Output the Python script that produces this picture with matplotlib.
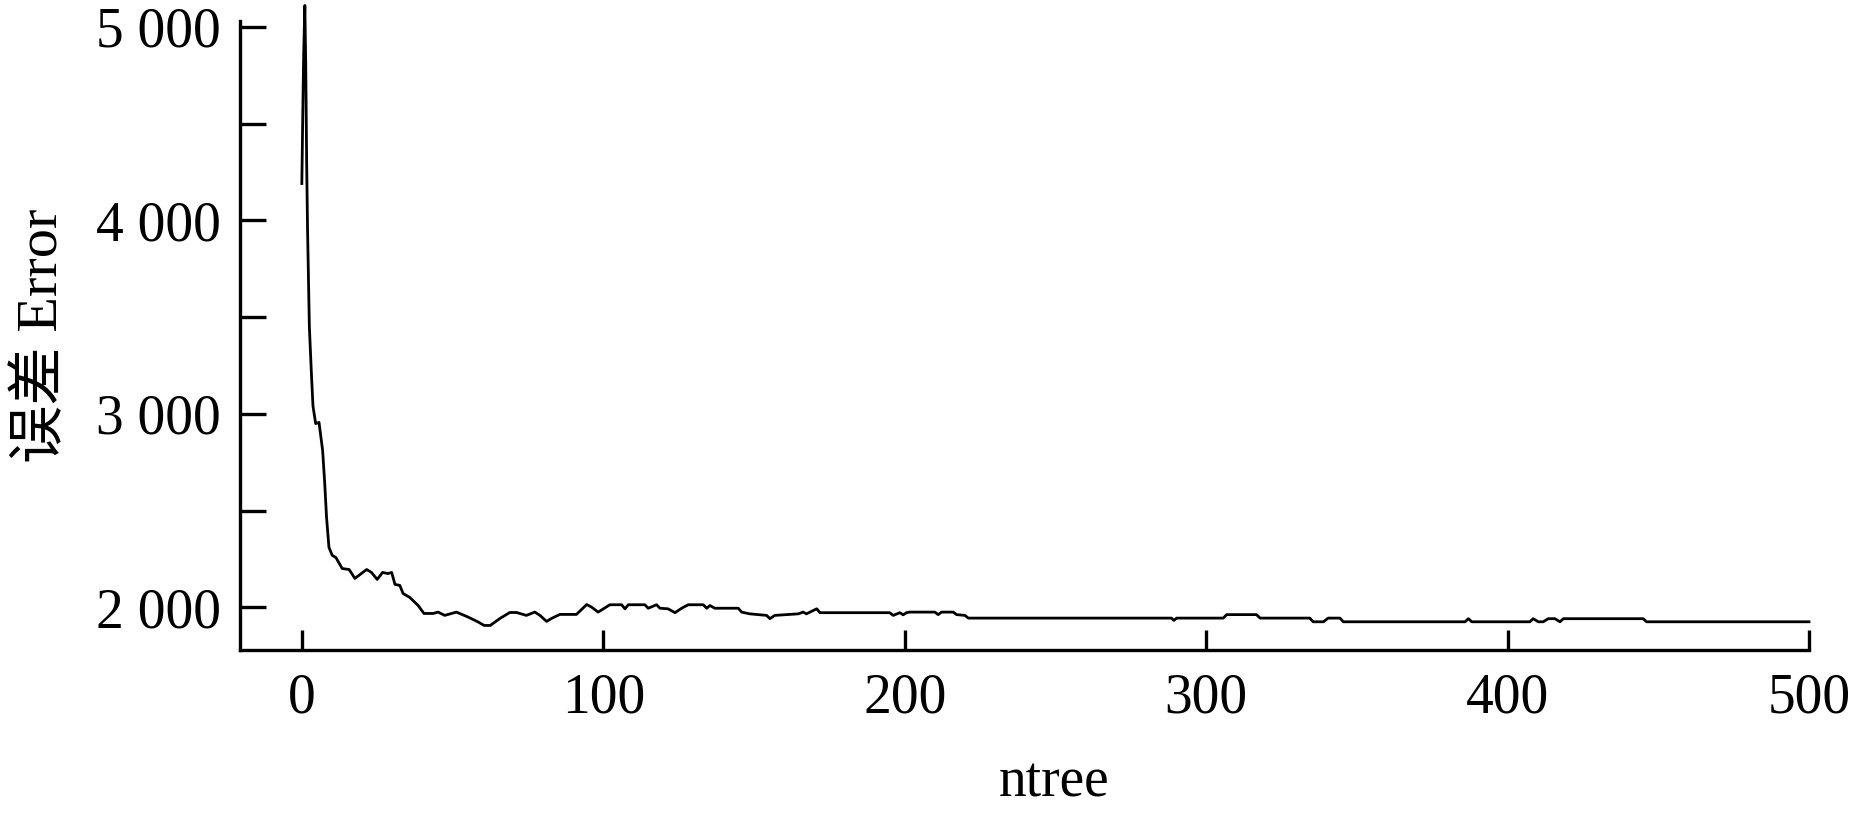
import matplotlib
matplotlib.use("Agg")
import matplotlib.pyplot as plt
from matplotlib.ticker import MultipleLocator, FuncFormatter

# Значения (ntree, ошибка)
ntree = [0, 0.3, 0.6, 1.0, 1.3, 1.6, 1.9, 2.2, 2.5, 3.2, 3.7, 4.6, 5.7, 6.9, 7.6,
         8.2, 9.0, 10.1, 11.3, 13.4, 15.7, 17.6, 21.5, 23.1, 25.0, 26.8, 28.6,
         29.8, 30.9, 32.5, 33.6, 35.8, 38.6, 40.5, 43.6, 45.2, 47.4, 51.3, 55.2,
         58.5, 60.5, 62.5, 65.7, 69, 71.2, 74.5, 77.3, 79, 81.2, 82.8, 85.6,
         91.1, 94.5, 96.1, 98.3, 102.2, 106.1, 107.2, 108.3, 113.8, 114.9,
         117.7, 118.8, 121.5, 123.8, 126, 128.2, 133.2, 134.3, 135.4, 137,
         144.8, 145.9, 148.6, 154.2, 155.3, 156.9, 164.7, 166.3, 167.4, 170.8,
         171.9, 195, 196.2, 198.4, 199.5, 200.6, 201.7, 210, 211.1, 212.2,
         216.1, 217.2, 220, 221.1, 288.5, 289.3, 290.2, 305.7, 306.8, 316.7,
         317.9, 334.4, 335.5, 338.9, 340.5, 344.4, 345.5, 385.9, 387, 388.1,
         407.4, 408.5, 410.2, 411.8, 413.5, 415.7, 417.4, 418.5, 445, 446.1, 500]
error = [4190, 4530, 4850, 5110, 4800, 4300, 3950, 3700, 3450, 3200, 3040, 2950,
         2956, 2811, 2640, 2465, 2310, 2269, 2258, 2201, 2196, 2150, 2196, 2181,
         2145, 2181, 2175, 2181, 2119, 2114, 2072, 2052, 2010, 1969, 1969, 1976,
         1959, 1976, 1950, 1925, 1907, 1907, 1943, 1974, 1974, 1959, 1976, 1959,
         1928, 1943, 1964, 1964, 2015, 2002, 1976, 2014, 2014, 1993, 2014, 2014,
         1996, 2014, 1996, 1993, 1973, 1996, 2014, 2014, 1996, 2010, 1996, 1996,
         1976, 1967, 1959, 1942, 1959, 1967, 1976, 1967, 1993, 1973, 1973, 1959,
         1973, 1962, 1973, 1976, 1976, 1963, 1976, 1976, 1963, 1959, 1945, 1945,
         1933, 1945, 1945, 1963, 1963, 1945, 1945, 1926, 1926, 1945, 1945, 1926,
         1926, 1942, 1926, 1926, 1942, 1926, 1926, 1942, 1942, 1926, 1942, 1942,
         1926, 1926]

plt.rcParams['font.family'] = ['Liberation Serif', 'Noto Sans CJK SC']

fig = plt.figure(figsize=(18.55, 8.19), dpi=100)
ax = fig.add_axes([0.1294, 0.2063, 0.9752 - 0.1294, 0.9744 - 0.2063])

ax.plot(ntree, error, color='black', linewidth=2.0, clip_on=False)

ax.set_xlim(-20.5, 500)
ax.set_ylim(1780, 5030)

ax.spines['top'].set_visible(False)
ax.spines['right'].set_visible(False)
for s in ('left', 'bottom'):
    ax.spines[s].set_linewidth(2.4)

ax.xaxis.set_major_locator(MultipleLocator(100))
ax.yaxis.set_major_locator(MultipleLocator(1000))
ax.yaxis.set_minor_locator(MultipleLocator(500))
ax.yaxis.set_major_formatter(FuncFormatter(lambda v, p: f"{int(v):,}".replace(',', ' ')))

ax.tick_params(axis='x', direction='in', length=14.5, width=2.4, labelsize=40, pad=16)
ax.tick_params(axis='y', which='both', direction='in', length=19, width=2.4, labelsize=40, pad=14)

ax.set_xlabel('ntree', fontsize=40)
ax.set_ylabel('误差 Error', fontsize=42)
ax.xaxis.set_label_coords(0.519, -0.21)
ax.xaxis.label.set_va('center')
ax.yaxis.set_label_coords(-0.126, 0.5)
ax.yaxis.label.set_va('center')

fig.savefig('out.png', dpi=100)
